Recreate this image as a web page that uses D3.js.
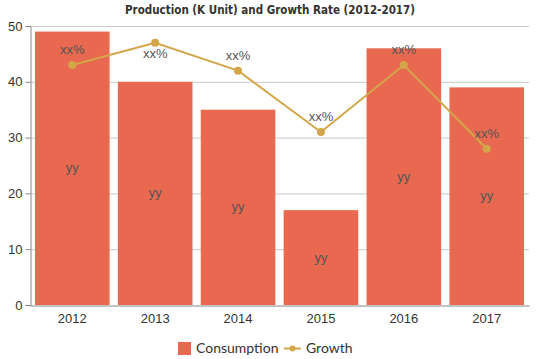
<!DOCTYPE html>
<html><head><meta charset="utf-8">
<script src="https://cdn.jsdelivr.net/npm/d3@7/dist/d3.min.js"></script>
<style>body{margin:0;background:#fff}svg{display:block}</style>
</head><body>
<svg id="c" width="539" height="359"></svg>
<script>
const years = ["2012","2013","2014","2015","2016","2017"];
const consumption = [49, 40, 35, 17, 46, 39];
const growth = [43, 47, 42, 31, 43, 28];
const barLabels = ["yy","yy","yy","yy","yy","yy"];
const growthLabels = ["xx%","xx%","xx%","xx%","xx%","xx%"];
const yTicks = [0,10,20,30,40,50];
const title = "Production (K Unit) and Growth Rate (2012-2017)";

const FONT = "'Liberation Sans', Arial, sans-serif";
const svg = d3.select("#c");
const m = {l:30, r:10, t:26, b:54};
const W = 539, H = 359;
const x = d3.scaleBand().domain(years).range([m.l, W - m.r]).paddingInner(0.1).paddingOuter(0.06);
const y = d3.scaleLinear().domain([0,50]).range([H - m.b, m.t]);
const barColor = "#e8694f", lineColor = "#d4a64a";

// grid
svg.append("g").selectAll("line").data(yTicks.filter(d=>d>0)).join("line")
  .attr("x1", m.l).attr("x2", W - m.r).attr("y1", d=>y(d)+0.5).attr("y2", d=>y(d)+0.5)
  .attr("stroke", "#c8c8c8");

// bars
svg.append("g").selectAll("rect").data(consumption).join("rect")
  .attr("x", (d,i)=>x(years[i])).attr("width", x.bandwidth())
  .attr("y", d=>y(d)).attr("height", d=>y(0)-y(d)).attr("fill", barColor);

svg.append("g").selectAll("text").data(consumption).join("text")
  .attr("x", (d,i)=>x(years[i]) + x.bandwidth()/2).attr("y", d=>(y(d)+y(0))/2 + 4)
  .attr("text-anchor","middle").style("font-family",FONT)
  .attr("font-size", 13).attr("fill","#555").text((d,i)=>barLabels[i]);

// axes
const yAxis = svg.append("g").attr("transform", `translate(${m.l+0.5},0)`)
  .call(d3.axisLeft(y).tickValues(yTicks).tickSize(5).tickPadding(3));
const xAxis = svg.append("g").attr("transform", `translate(0,${y(0)+0.5})`)
  .call(d3.axisBottom(x).tickSize(0).tickPadding(8));
[yAxis, xAxis].forEach(a=>{
  a.attr("font-family", null);
  a.selectAll("path,line").attr("stroke","#888");
  a.selectAll("text").style("font-family",FONT).attr("font-size",13).attr("fill","#333");
});

// growth line
const cx = i => x(years[i]) + x.bandwidth()/2;
const line = d3.line().x((d,i)=>cx(i)).y(d=>y(d));
svg.append("path").datum(growth).attr("d", line).attr("fill","none")
  .attr("stroke", lineColor).attr("stroke-width", 2);
svg.append("g").selectAll("circle").data(growth).join("circle")
  .attr("cx",(d,i)=>cx(i)).attr("cy", d=>y(d)).attr("r",4).attr("fill",lineColor);
svg.append("g").selectAll("text").data(growth).join("text")
  .attr("x",(d,i)=>cx(i))
  .attr("y", d=> (y(d) - 14 < m.t + 20) ? y(d) + 15 : y(d) - 11)
  .attr("text-anchor","middle").style("font-family",FONT)
  .attr("font-size",13).attr("fill","#555").text((d,i)=>growthLabels[i]);

// title
svg.append("text").attr("x", 270).attr("y", 14).attr("text-anchor","middle")
  .style("font-family","'DejaVu Sans', sans-serif")
  .attr("font-weight","bold").attr("font-size",13).attr("fill","#333")
  .attr("textLength", 290).attr("lengthAdjust","spacingAndGlyphs").text(title);

// legend
const lg = svg.append("g").style("font-family","Lato, sans-serif").attr("font-size",14).attr("fill","#333");
lg.append("rect").attr("x",178).attr("y",342).attr("width",13).attr("height",13).attr("fill",barColor);
lg.append("text").attr("x",196).attr("y",353).text("Consumption");
lg.append("line").attr("x1",284).attr("x2",301).attr("y1",348.5).attr("y2",348.5).attr("stroke",lineColor).attr("stroke-width",2);
lg.append("circle").attr("cx",292.5).attr("cy",348.5).attr("r",3).attr("fill",lineColor);
lg.append("text").attr("x",306).attr("y",353).text("Growth");
</script>
</body></html>
